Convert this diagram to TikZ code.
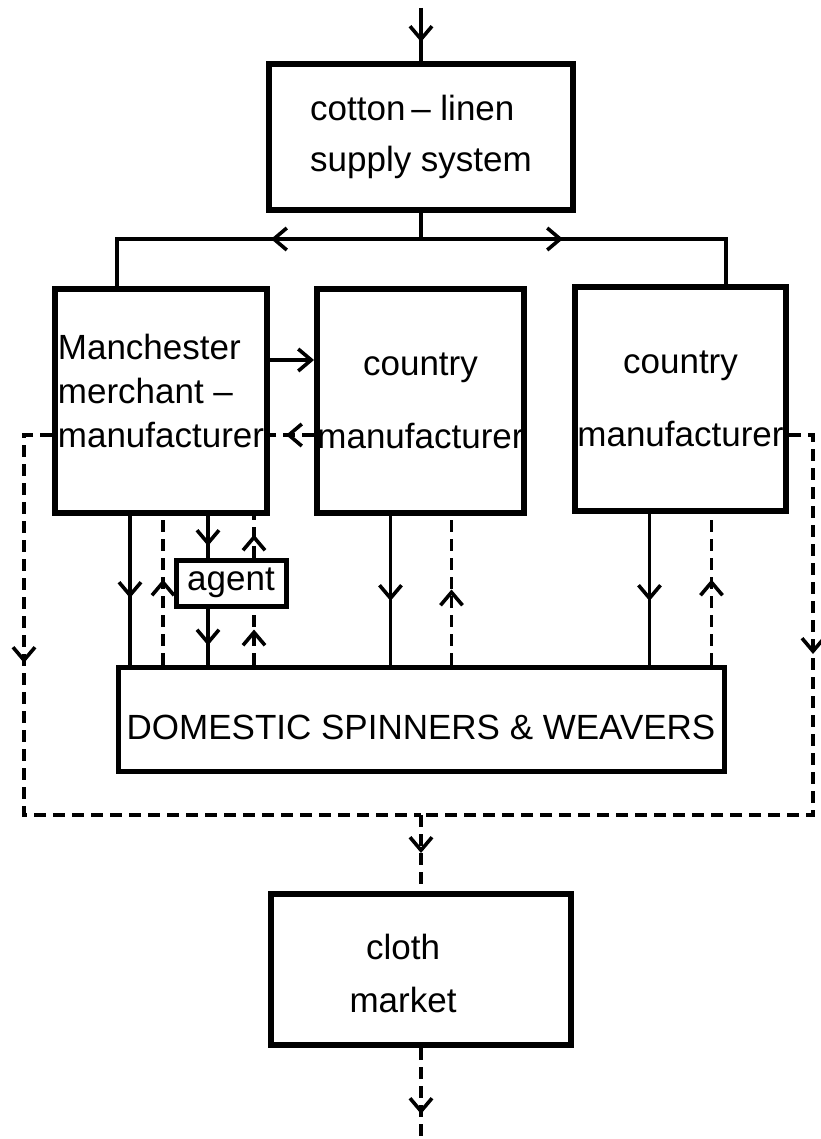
\documentclass[tikz,border=0pt]{standalone}
\usepackage{fontspec}
\setmainfont{Liberation Sans}
\usetikzlibrary{arrows.meta,decorations.markings}

\tikzset{
  box/.style={draw, line width=6pt, inner sep=0pt, align=center},
  flow/.style={line width=3.6pt},
  back/.style={flow, dash pattern=on 12pt off 7pt},
  barb/.tip={Straight Barb[length=13pt,width=22pt,line width=3.6pt]},
  tipat/.style={postaction={decorate,decoration={markings,mark=at position #1 with {\arrow{barb}}}}},
}

\begin{document}
\begin{tikzpicture}[x=1pt,y=-1pt,every node/.style={font=\fontsize{35}{44}\selectfont}]
\useasboundingbox (0,0) rectangle (820,1139);
% boxes
\node[box, align=left, minimum width=304pt, minimum height=146pt] (supply) at (421,137) {cotton\,-- linen\\[7pt]supply system};
\node[box, minimum width=212pt, minimum height=224pt] (merch) at (161,401) {};
\node[align=left, inner sep=0pt] (merchtxt) at (161,391) {Manchester\\merchant --\\manufacturer};
\node[box, minimum width=207pt, minimum height=224pt] (cntryA) at (420.5,401) {country\\[29pt]manufacturer};
\node[box, minimum width=211pt, minimum height=224pt] (cntryB) at (680.5,399) {country\\[29pt]manufacturer};
\node[box, line width=5pt, minimum width=110pt, minimum height=46pt] (agent) at (231,583) {agent};
\node[box, line width=5pt, minimum width=606pt, minimum height=104pt, text height=41pt, text depth=0pt] (dom) at (421,719) {DOMESTIC SPINNERS \& WEAVERS};
\node[box, minimum width=300pt, minimum height=151pt] (cloth) at (421,969.5) {};
\node[align=center, inner sep=0pt] (clothtxt) at (403,973) {cloth\\[9pt]market};
% helper points
\coordinate (in) at (421,8);
\coordinate (hub) at (421,239);
\coordinate (jL) at (117,239);
\coordinate (jR) at (726,239);
\coordinate (lc) at (24,815);
\coordinate (rc) at (813,815);
\coordinate (mkt) at (421,815);
\coordinate (out) at (421,1139);
% supply
\draw[flow, tipat=34pt] (in) -- (supply.north);
\draw[flow] (supply.south) -- (hub);
\draw[flow, tipat=150pt] (hub) -- (jL) -- (jL |- merch.north);
\draw[flow, tipat=142pt] (hub) -- (jR) -- (jR |- cntryB.north);
% between manufacturers
\draw[flow, -barb] ([yshift=41pt]merch.east) -- ([yshift=41pt]cntryA.west);
\draw[back, tipat=28pt] ([yshift=-34pt]cntryA.west) -- ([yshift=-34pt]merch.east);
% to the market
\draw[back, tipat=256pt] ([yshift=-34pt]merch.west) -| (lc) -- (mkt);
\draw[back, tipat=243pt] ([yshift=-36pt]cntryB.east) -| (rc) -- (mkt);
\draw[back, tipat=38pt] (mkt) -- (cloth.north);
\draw[back, tipat=66pt] (cloth.south) -- (out);
% putting-out lines
\draw[flow, tipat=82pt] ([xshift=-31pt]merch.south) -- ([xshift=-31pt]merch.south |- dom.north);
\draw[back, tipat=85pt] ([xshift=2pt]merch.south |- dom.north) -- ([xshift=2pt]merch.south);
\draw[flow, tipat=30pt] ([xshift=-23pt]agent.north |- merch.south) -- ([xshift=-23pt]agent.north);
\draw[flow, tipat=37pt] ([xshift=-23pt]agent.south) -- ([xshift=-23pt]agent.south |- dom.north);
\draw[back, tipat=23pt] ([xshift=23pt]agent.north) -- ([xshift=23pt]agent.north |- merch.south);
\draw[back, tipat=35pt] ([xshift=23pt]agent.south |- dom.north) -- ([xshift=23pt]agent.south);
\draw[flow, tipat=85pt] ([xshift=-30pt]cntryA.south) -- ([xshift=-30pt]cntryA.south |- dom.north);
\draw[back, tipat=75pt] ([xshift=31pt]cntryA.south |- dom.north) -- ([xshift=31pt]cntryA.south);
\draw[flow, tipat=87pt] ([xshift=-31pt]cntryB.south) -- ([xshift=-31pt]cntryB.south |- dom.north);
\draw[back, tipat=85pt] ([xshift=31pt]cntryB.south |- dom.north) -- ([xshift=31pt]cntryB.south);
\end{tikzpicture}
\end{document}
